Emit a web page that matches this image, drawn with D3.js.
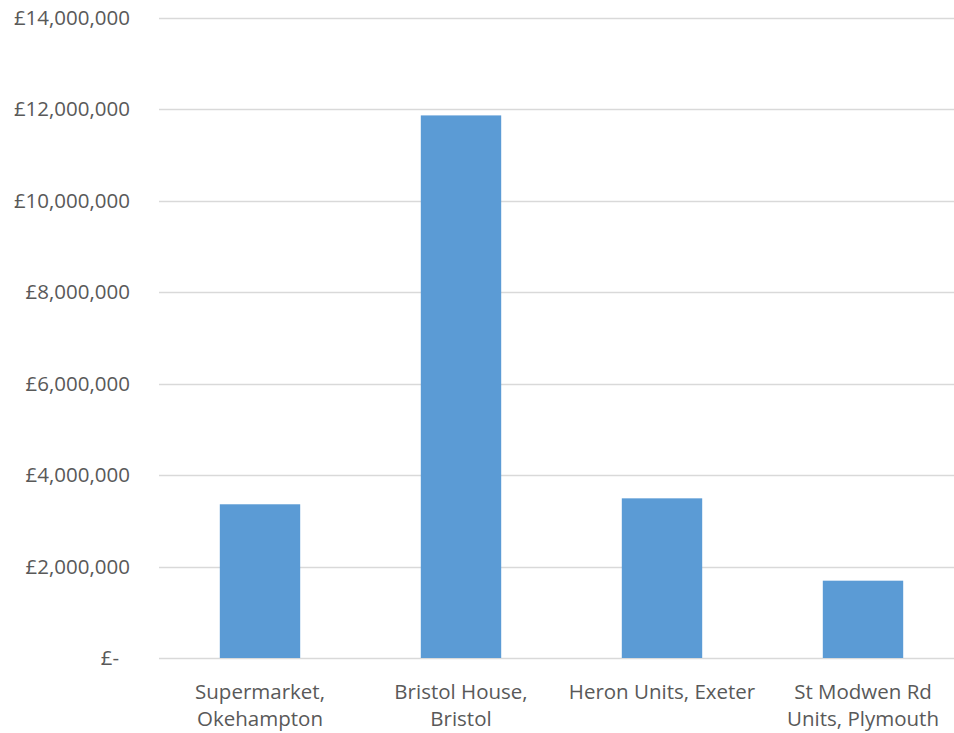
<!DOCTYPE html>
<html>
<head>
<meta charset="utf-8">
<script src="https://cdn.jsdelivr.net/npm/d3@7"></script>
<style>
  body { margin: 0; background: #fff; }
  text { font-family: "Open Sans", "Liberation Sans", sans-serif; fill: #595959; }
</style>
</head>
<body>
<div class="container"></div>
<script>
// chart data
const categories = ["Supermarket, Okehampton", "Bristol House, Bristol", "Heron Units, Exeter", "St Modwen Rd Units, Plymouth"];
const labelLines = [["Supermarket,", "Okehampton"], ["Bristol House,", "Bristol"], ["Heron Units, Exeter"], ["St Modwen Rd", "Units, Plymouth"]];
const values = [3360000, 11860000, 3490000, 1690000];
const yTicks = [0, 2000000, 4000000, 6000000, 8000000, 10000000, 12000000, 14000000];

const width = 954;
const height = 733;

const svg = d3.select(".container")
  .append("svg")
  .attr("width", width)
  .attr("height", height);

const x = d3.scaleBand()
  .domain(categories)
  .range([159.5, 963.5])
  .paddingInner(0.6)
  .paddingOuter(0.3);

const y = d3.scaleLinear()
  .domain([0, 14000000])
  .range([658, 17.5]);

// gridlines
svg.append("g")
  .selectAll("line")
  .data(yTicks)
  .enter()
  .append("line")
  .attr("x1", 159)
  .attr("x2", width)
  .attr("y1", (d) => Math.round(y(d)) + 0.5)
  .attr("y2", (d) => Math.round(y(d)) + 0.5)
  .attr("stroke", "#d9d9d9")
  .attr("stroke-width", 1.3);

// y labels
const fmt = d3.format(",");
svg.append("g")
  .selectAll("text")
  .data(yTicks)
  .enter()
  .append("text")
  .attr("x", (d) => d === 0 ? 119 : 130)
  .attr("y", (d) => y(d))
  .attr("dy", "0.35em")
  .attr("text-anchor", "end")
  .style("font-size", "20.5px")
  .text((d) => d === 0 ? "£-" : "£" + fmt(d));

// bars
svg.append("g")
  .selectAll("rect")
  .data(values)
  .enter()
  .append("rect")
  .attr("x", (d, i) => x(categories[i]))
  .attr("y", (d) => y(d))
  .attr("width", x.bandwidth())
  .attr("height", (d) => y(0) - y(d))
  .attr("fill", "#5b9bd5");

// x labels
const xl = svg.append("g")
  .selectAll("text")
  .data(categories)
  .enter()
  .append("text")
  .attr("x", (d) => x(d) + x.bandwidth() / 2)
  .attr("y", 699)
  .attr("text-anchor", "middle")
  .style("font-size", "20.5px");

xl.selectAll("tspan")
  .data((d, i) => labelLines[i])
  .enter()
  .append("tspan")
  .attr("x", function () { return d3.select(this.parentNode).attr("x"); })
  .attr("dy", (d, i) => i === 0 ? 0 : 27)
  .text((d) => d);
</script>
</body>
</html>
